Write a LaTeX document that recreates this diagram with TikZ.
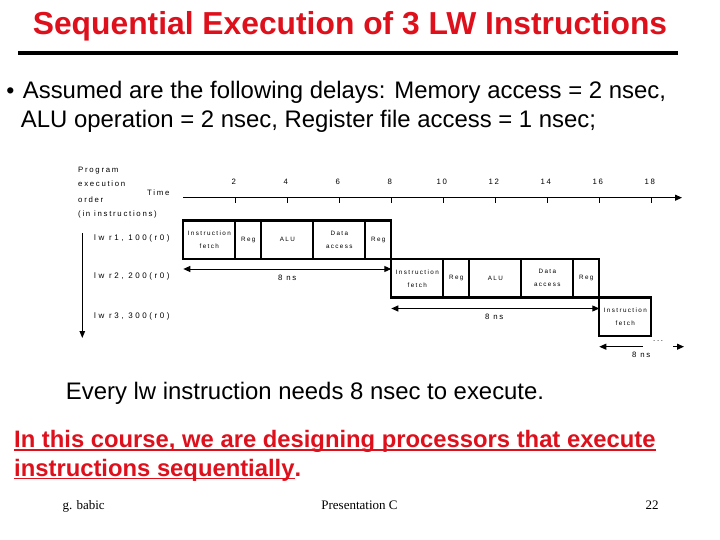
\documentclass[tikz,border=0pt]{standalone}
\usepackage{fontspec}
\setmainfont{Liberation Sans}
\newfontfamily\timesf{Liberation Serif}
\newfontfamily\spaced[LetterSpace=22]{Liberation Sans}
\newfontfamily\spacedw[LetterSpace=32]{Liberation Sans}
\usetikzlibrary{arrows.meta}
\definecolor{titlered}{RGB}{222,16,28}
\tikzset{
  stg/.style={draw, line width=2.2pt, rectangle, minimum height=38.5pt, outer sep=0pt, inner sep=0pt, anchor=north west, align=center, font=\spaced\fontsize{6.3}{13}\selectfont},
  lbl/.style={inner sep=0pt, anchor=base west, font=\spaced\fontsize{7.8}{8}\selectfont},
  lwl/.style={inner sep=0pt, anchor=base west, font=\spacedw\fontsize{8}{8}\selectfont},
  tick/.style={inner sep=0pt, anchor=base, font=\spaced\fontsize{7.8}{8}\selectfont},
  dim/.style={line width=1pt, {Triangle[length=7pt,width=6pt]}-{Triangle[length=7pt,width=6pt]}},
  big/.style={inner sep=0pt, anchor=base west, font=\fontsize{23.9}{27}\selectfont},
  redtxt/.style={inner sep=0pt, anchor=base west, text=titlered, font=\bfseries\fontsize{23.8}{27}\selectfont},
  foot/.style={inner sep=0pt, anchor=base, font=\timesf\fontsize{13}{15}\selectfont},
}
\newcommand{\ul}[1]{\setbox0\hbox{#1}\rlap{\rule[-3.4pt]{\wd0}{1.8pt}}\box0}
\begin{document}
\begin{tikzpicture}[x=1pt,y=-1pt]
\useasboundingbox (0,0) rectangle (720,540);
% title
\node[inner sep=0pt, anchor=base, text=titlered, font=\bfseries\fontsize{31.8}{33}\selectfont] (title) at (350,34.3) {Sequential Execution of 3 LW Instructions};
\coordinate (r1) at (18.3,53.3);
\coordinate (r2) at (677.7,53.3);
\draw[line width=4pt] (r1) -- (r2);
% bullet
\node[inner sep=0pt, anchor=base, font=\fontsize{23}{27}\selectfont] (bul) at (10.5,99) {\textbullet};
\node[big] (b1) at (22.7,99) {Assumed are the following delays: Memory access = 2 nsec,};
\node[big] (b2) at (20.7,127.7) {ALU operation = 2 nsec, Register file access = 1 nsec;};
% left labels
\node[lbl] (p1) at (78,172.5) {Program};
\node[lbl] (p2) at (78,187) {execution};
\node[lbl] (p3) at (78,202.5) {order};
\node[lbl] (p4) at (78,217) {(in instructions)};
\node[lbl] (time) at (147,196) {Time};
% time axis
\coordinate (ax0) at (183.3,197.7);
\coordinate (ax1) at (682,197.7);
\draw[line width=1.1pt, -{Triangle[length=7pt,width=6pt]}] (ax0) -- (ax1);
\foreach \t in {2,4,...,18}{
  \coordinate (tk\t) at ({183.3+26*\t},197.7);
  \draw[line width=1.1pt] (tk\t) -- ++(0,5.5);
  \node[tick] (tl\t) at ({183.3+26*\t-1.5},184.5) {\t};
}
% instruction labels
\node[lwl] (l1) at (94,240.5) {lw r1, 100(r0)};
\node[lwl] (l2) at (94,278.5) {lw r2, 200(r0)};
\node[lwl] (l3) at (94,318) {lw r3, 300(r0)};
\coordinate (va) at (82.3,233.3);
\coordinate (vb) at (82.3,338);
\draw[line width=1.1pt, -{Triangle[length=7pt,width=5.5pt]}] (va) -- (vb);
% instruction 1
\node[stg, minimum width=52pt] (i1f) at (183.3,220.5) {Instruction\\fetch};
\node[stg, minimum width=26pt] (i1r) at (i1f.north east) {Reg};
\node[stg, minimum width=52pt] (i1a) at (i1r.north east) {ALU};
\node[stg, minimum width=52pt] (i1d) at (i1a.north east) {Data\\access};
\node[stg, minimum width=26pt] (i1w) at (i1d.north east) {Reg};
% instruction 2
\node[stg, minimum width=52pt] (i2f) at (i1w.south east) {Instruction\\fetch};
\node[stg, minimum width=26pt] (i2r) at (i2f.north east) {Reg};
\node[stg, minimum width=52pt] (i2a) at (i2r.north east) {ALU};
\node[stg, minimum width=52pt] (i2d) at (i2a.north east) {Data\\access};
\node[stg, minimum width=26pt] (i2w) at (i2d.north east) {Reg};
% instruction 3
\node[stg, minimum width=52pt] (i3f) at (i2w.south east) {Instruction\\fetch};
% dimensions
\draw[dim] ([yshift=-10pt]i1f.south west) -- ([yshift=-10pt]i1w.south east);
\node[lbl] (d1) at (278,280.5) {8 ns};
\draw[dim] ([yshift=-11pt]i2f.south west) -- ([yshift=-11pt]i2w.south east);
\node[lbl] (d2) at (485,319.5) {8 ns};
\coordinate (e3a) at (643,346.7);
\coordinate (e3b) at (673,346.7);
\coordinate (e3c) at (684,346.7);
\draw[line width=1pt, {Triangle[length=7pt,width=6pt]}-] ([yshift=-10.7pt]i3f.south west) -- (e3a);
\draw[line width=1pt, -{Triangle[length=7pt,width=6pt]}] (e3b) -- (e3c);
\node[lbl] (dots) at (653,341) {...};
\node[lbl] (d3) at (632,357) {8 ns};
% bottom text
\node[big] (ev) at (65.7,399.3) {Every lw instruction needs 8 nsec to execute.};
\node[redtxt] (c1) at (14,447.3) {\ul{In this course, we are designing processors that execute}};
\node[redtxt] (c2) at (14,476) {\ul{instructions sequentially}.};
% footer
\node[foot, anchor=base west] (f1) at (62.3,509) {g. babic};
\node[foot] (f2) at (359.5,509) {Presentation C};
\node[foot] (f3) at (652,509) {22};
\end{tikzpicture}
\end{document}
